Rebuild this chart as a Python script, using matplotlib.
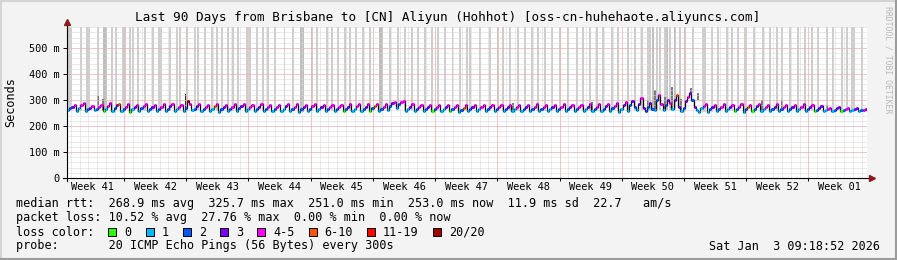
import numpy as np
import matplotlib
matplotlib.use("Agg")
import matplotlib.pyplot as plt
from matplotlib.patches import Rectangle
from matplotlib.lines import Line2D

plt.rcParams['font.family'] = 'DejaVu Sans Mono'

# ---------------------------------------------------------------------------
# Data: daily sawtooth of median rtt, 4 samples a day
# ---------------------------------------------------------------------------
trough_ms = [
    262, 258, 257, 260, 256, 258, 259, 255, 257, 258,
    256, 258, 257, 259, 261, 256, 258, 255, 257, 259,
    256, 258, 257, 256, 258, 257, 255, 258, 257, 256,
    257, 256, 258, 257, 259, 256, 262, 270, 258, 256,
    257, 258, 256, 257, 255, 258, 257, 256, 258, 257,
    256, 257, 258, 256, 257, 258, 256, 257, 258, 257,
    256, 258, 255, 258, 262, 258, 260, 262, 265, 258,
    327, 255, 255, 258, 256, 257, 255, 258, 256, 257,
    257, 256, 258, 257, 256, 256, 258, 257, 258, 257]
rise_ms = [
    268, 270, 264, 266, 265, 268, 266, 264, 268, 266,
    266, 267, 265, 268, 266, 265, 267, 264, 266, 268,
    265, 266, 265, 264, 267, 266, 264, 266, 265, 264,
    265, 266, 267, 266, 268, 266, 278, 284, 266, 264,
    265, 266, 265, 264, 263, 266, 265, 264, 266, 265,
    264, 265, 266, 264, 265, 266, 264, 265, 266, 265,
    266, 268, 265, 280, 285, 275, 300, 281, 300, 269,
    300, 268, 264, 266, 265, 266, 264, 266, 265, 266,
    265, 264, 266, 265, 263, 261, 262, 261, 262, 260]
high_ms = [
    274, 280, 270, 272, 276, 279, 275, 272, 276, 274,
    275, 276, 274, 296, 277, 274, 276, 273, 275, 277,
    274, 275, 274, 273, 276, 275, 273, 276, 274, 273,
    274, 275, 276, 275, 277, 275, 288, 292, 275, 273,
    273, 274, 273, 272, 271, 274, 273, 272, 274, 273,
    273, 274, 275, 273, 274, 275, 273, 274, 275, 274,
    276, 278, 280, 295, 308, 290, 319, 300, 319, 295,
    275, 276, 272, 275, 274, 275, 273, 276, 274, 275,
    274, 273, 275, 274, 270, 266, 268, 266, 267, 263]
peak_ms = [
    281, 287, 276, 280, 287, 284, 283, 279, 284, 282,
    283, 284, 282, 286, 285, 282, 284, 281, 283, 285,
    282, 283, 282, 281, 284, 283, 281, 285, 282, 281,
    282, 283, 284, 283, 285, 283, 294, 297, 283, 281,
    281, 282, 281, 280, 279, 282, 281, 280, 282, 281,
    281, 282, 283, 281, 282, 283, 281, 282, 285, 283,
    284, 288, 292, 275, 270, 265, 285, 290, 275, 310,
    261, 283, 279, 283, 282, 283, 281, 284, 282, 283,
    282, 281, 283, 282, 276, 270, 272, 270, 271, 264]

# loss class per sample: 0 '0', 1 '1', 2 '2', 3 '3', 4 '4-5', 5 '6-10', 6 '11-19', 7 '20/20'
loss_trough = [
    1, 1, 1, 1, 0, 1, 1, 0, 1, 1,
    1, 1, 1, 1, 1, 1, 1, 1, 1, 1,
    1, 1, 1, 1, 1, 1, 1, 1, 1, 1,
    1, 0, 1, 1, 0, 1, 1, 1, 1, 1,
    1, 0, 1, 0, 1, 1, 1, 1, 1, 1,
    1, 1, 1, 1, 1, 1, 1, 1, 1, 1,
    1, 1, 1, 1, 1, 2, 1, 1, 1, 1,
    3, 1, 1, 1, 1, 0, 1, 0, 1, 1,
    1, 1, 1, 1, 0, 1, 1, 0, 1, 1]
loss_rise = [
    2, 1, 2, 2, 1, 2, 2, 1, 2, 2,
    2, 2, 1, 2, 2, 2, 1, 2, 2, 2,
    1, 2, 2, 2, 1, 2, 2, 2, 1, 2,
    2, 2, 1, 2, 2, 2, 2, 2, 1, 2,
    2, 2, 1, 2, 2, 2, 1, 2, 2, 2,
    1, 2, 2, 2, 1, 2, 2, 2, 1, 2,
    2, 2, 1, 2, 3, 2, 2, 2, 3, 2,
    2, 1, 2, 2, 1, 2, 2, 2, 1, 2,
    2, 2, 1, 2, 2, 1, 2, 2, 1, 2]
loss_high = [
    3, 4, 3, 4, 4, 3, 4, 3, 4, 3,
    4, 3, 4, 7, 3, 4, 5, 3, 4, 3,
    4, 3, 4, 4, 3, 4, 3, 4, 3, 4,
    4, 3, 4, 3, 5, 4, 3, 4, 3, 4,
    3, 4, 3, 4, 5, 3, 4, 3, 4, 3,
    4, 3, 4, 4, 3, 4, 3, 4, 3, 4,
    3, 4, 3, 3, 4, 3, 4, 3, 5, 3,
    3, 4, 3, 4, 3, 4, 5, 3, 4, 3,
    4, 3, 4, 3, 3, 4, 3, 4, 3, 4]
loss_peak = [
    4, 4, 4, 4, 4, 5, 4, 4, 4, 4,
    4, 4, 4, 4, 4, 4, 4, 4, 4, 4,
    4, 4, 4, 4, 4, 4, 4, 4, 4, 4,
    4, 4, 4, 4, 4, 4, 4, 4, 4, 4,
    4, 4, 4, 4, 4, 4, 4, 4, 4, 4,
    4, 4, 4, 4, 4, 4, 4, 4, 4, 4,
    4, 4, 4, 2, 3, 2, 4, 4, 3, 4,
    1, 4, 4, 4, 4, 4, 4, 4, 4, 4,
    4, 4, 4, 4, 3, 4, 3, 4, 3, 3]

# tall light smoke (upper percentiles reaching past the top), position in days
smoke_day = [
    0.39, 1.58, 2.36, 3.49, 4.27, 5.06, 5.51, 6.36, 7.09, 7.42,
    7.99, 8.77, 9.67, 10.46, 11.59, 12.37, 12.71, 13.50, 14.40, 14.74,
    15.52, 16.31, 16.87, 17.44, 18.11, 18.68, 19.24, 20.25, 20.59, 21.37,
    22.05, 22.61, 23.40, 24.47, 25.42, 26.49, 27.56, 28.12, 29.25, 29.81,
    30.49, 31.27, 31.84, 32.51, 33.30, 34.09, 35.27, 36.34, 37.24, 38.03,
    38.81, 39.49, 40.27, 41.06, 41.74, 42.52, 43.37, 44.21, 45.00, 45.34,
    46.46, 47.59, 48.49, 49.05, 49.84, 50.74, 51.53, 52.32, 52.99, 53.77,
    54.56, 55.46, 56.36, 57.37, 58.05, 58.84, 59.62, 60.30, 61.31, 61.99,
    63.11, 63.90, 64.69, 65.42, 65.92, 66.37, 66.71, 67.27, 67.50, 67.84,
    68.40, 68.96, 69.53, 70.43, 71.61, 72.56, 73.24, 74.25, 74.81, 75.49,
    76.27, 77.29, 78.30, 79.09, 79.87, 80.44, 81.34, 82.24, 83.02, 83.81,
    84.49, 85.50, 86.17, 87.18, 87.75, 88.48, 89.44]
smoke_wide = [0.39, 2.36, 4.27, 6.36, 10.46, 26.49, 35.27, 65.42, 71.61, 88.48]
smoke_dense = [4.27, 26.49, 35.27, 65.92, 67.50, 68.40]
smoke_top_ms = 600

# dark smoke near the median: position (days), top (ms)
dark_day = [3.49, 4.05, 13.33, 50.17, 59.06, 65.36, 66.15, 67.27, 68.06, 69.08,
            70.20, 70.99, 78.19, 80.44, 85.50]
dark_top = [315, 304, 325, 290, 292, 300, 338, 313, 350, 303,
            348, 300, 300, 300, 282]

loss_labels = ['0', '1', '2', '3', '4-5', '6-10', '11-19', '20/20']
loss_colors = ['#26ff00', '#00b8ff', '#0059ff', '#7e00ff',
               '#ff00ff', '#ff5500', '#ff0000', '#a00000']

week_labels = ['Week 41', 'Week 42', 'Week 43', 'Week 44', 'Week 45', 'Week 46',
               'Week 47', 'Week 48', 'Week 49', 'Week 50', 'Week 51', 'Week 52',
               'Week 01']
first_week_start = 6.41   # days from left edge to the Week 42 boundary

title = "Last 90 Days from Brisbane to [CN] Aliyun (Hohhot) [oss-cn-huhehaote.aliyuncs.com]"
rtt_text = ("median rtt:  268.9 ms avg  325.7 ms max  251.0 ms min  "
            "253.0 ms now  11.9 ms sd  22.7   am/s")
loss_text = "packet loss: 10.52 % avg  27.76 % max  0.00 % min  0.00 % now"
probe_text = "probe:       20 ICMP Echo Pings (56 Bytes) every 300s"
stamp_text = "Sat Jan  3 09:18:52 2026"

# ---------------------------------------------------------------------------
# Layout (pixels of the 897x260 picture)
# ---------------------------------------------------------------------------
W, H = 897, 260
X0, X1, Y0, Y1 = 67, 867, 178, 27
YMAX = 580.8


def fx(px):
    return px / W


def fy(py):
    return 1 - py / H


fig = plt.figure(figsize=(W / 100, H / 100), dpi=100, facecolor='#f3f3f3')
ax = fig.add_axes([fx(X0), fy(Y0), (X1 - X0) / W, (Y0 - Y1) / H])
ax.set_facecolor('white')
ax.set_xlim(0, 90)
ax.set_ylim(0, YMAX)
for s in ax.spines.values():
    s.set_visible(False)

# grid
dot = (0, (1, 1))
day_lines = first_week_start - 6 + np.arange(0, 90)
week_bounds = first_week_start + 7 * np.arange(12)
ax.vlines([d for d in day_lines if 0 < d < 90], 0, YMAX, colors='#d6d6d6',
          lw=0.72, linestyles=dot, zorder=3)
ax.hlines(np.arange(20, YMAX, 20), 0, 90, colors='#d6d6d6', lw=0.72,
          linestyles=dot, zorder=3)
ax.vlines(week_bounds, 0, YMAX, colors='#f4a6a6', lw=0.72, linestyles=dot, zorder=3)
ax.hlines(np.arange(100, YMAX, 100), 0, 90, colors='#f4a6a6', lw=0.72,
          linestyles=dot, zorder=3)

# smoke
widths = [0.45 if d in smoke_wide else 0.22 for d in smoke_day]
shades = ['#bdbdbd' if d in smoke_dense else '#cdcdcd' for d in smoke_day]
base = [trough_ms[min(int(d), 89)] for d in smoke_day]
ax.bar(smoke_day, [smoke_top_ms - b for b in base], bottom=base, width=widths,
       color=shades, linewidth=0, zorder=2)
dark_base = [trough_ms[min(int(d), 89)] for d in dark_day]
ax.bar(dark_day, [t - b for t, b in zip(dark_top, dark_base)], bottom=dark_base,
       width=0.22, color=['#303030' if t > 320 and d < 20 else '#7a7a7a'
                          for d, t in zip(dark_day, dark_top)],
       linewidth=0, zorder=2.5)

# median line coloured by loss
days = np.arange(len(trough_ms))
t = np.column_stack([days, days + 0.25, days + 0.5, days + 0.75]).ravel()
v = np.column_stack([trough_ms, rise_ms, high_ms, peak_ms]).ravel()
cls = np.column_stack([loss_trough, loss_rise, loss_high, loss_peak]).ravel()
ax.step(np.append(t, 90), np.append(v, v[-1]), where='post', color='black',
        lw=0.9, zorder=4)
for k, col in enumerate(loss_colors):
    m = cls == k
    if m.any():
        ax.hlines(v[m], t[m], t[m] + 0.25, colors=col, lw=2.2, zorder=5)

# ticks
ax.set_xticks(week_bounds)
ax.set_xticklabels([])
ax.set_xticks(first_week_start - 3.5 + 7 * np.arange(13), minor=True)
ax.set_xticklabels(week_labels, minor=True, fontsize=7.4)
ax.tick_params(axis='x', which='major', length=2.2, width=0.7, direction='out')
ax.tick_params(axis='x', which='minor', length=0, pad=3)
ax.set_yticks(np.arange(0, 501, 100))
ax.set_yticklabels(['0'] + [f'{v} m' for v in range(100, 501, 100)], fontsize=7.4)
ax.tick_params(axis='y', length=2.9, width=0.7, pad=2.7)

# axes lines with arrows
ax.plot([-0.005, 1.005], [0, 0], color='black', lw=0.8, transform=ax.transAxes,
        clip_on=False, zorder=6)
ax.plot([0, 0], [-0.02, 1.02], color='black', lw=0.8, transform=ax.transAxes,
        clip_on=False, zorder=6)
ax.plot([1.006], [0], marker='>', ms=4, color='#8b1a1a', transform=ax.transAxes,
        clip_on=False, zorder=7)
ax.plot([0], [1.03], marker='^', ms=4, color='#8b1a1a', transform=ax.transAxes,
        clip_on=False, zorder=7)

# texts
fig.text(fx(448), fy(18), title, ha='center', va='center', fontsize=9.1)
fig.text(fx(11), fy(102), 'Seconds', rotation=90, ha='center', va='center',
         fontsize=8.5)
fig.text(fx(888), fy(60), 'RRDTOOL / TOBI OETIKER', rotation=270, ha='center',
         va='center', fontsize=5.9, color='#b8b8b8')
fig.text(fx(16), fy(204), rtt_text, va='center', fontsize=8.5)
fig.text(fx(16), fy(218), loss_text, va='center', fontsize=8.5)
fig.text(fx(16), fy(232), 'loss color:', va='center', fontsize=8.5)
fig.text(fx(16), fy(246), probe_text, va='center', fontsize=8.5)
fig.text(fx(880), fy(246), stamp_text, ha='right', va='center', fontsize=8.5)

cx = 112.3
for lab, col in zip(loss_labels, loss_colors):
    fig.add_artist(Rectangle((fx(cx - 4), fy(236)), 8 / W, 8 / H, facecolor=col,
                             edgecolor='black', lw=0.7, transform=fig.transFigure))
    fig.text(fx(cx + 12), fy(232), lab, va='center', fontsize=8.5)
    cx += 37.2 + (len(lab) - 1) * 7.125

# 3D border
fig.add_artist(Line2D([0, 1], [fy(0.5), fy(0.5)], color='#d4d4d4', lw=1.5,
                      transform=fig.transFigure))
fig.add_artist(Line2D([fx(0.5), fx(0.5)], [0, 1], color='#d4d4d4', lw=1.5,
                      transform=fig.transFigure))
fig.add_artist(Line2D([0, 1], [fy(259), fy(259)], color='#9c9c9c', lw=1.5,
                      transform=fig.transFigure))
fig.add_artist(Line2D([fx(896), fx(896)], [0, 1], color='#9c9c9c', lw=1.5,
                      transform=fig.transFigure))

fig.savefig('out.png', dpi=100, facecolor=fig.get_facecolor())
